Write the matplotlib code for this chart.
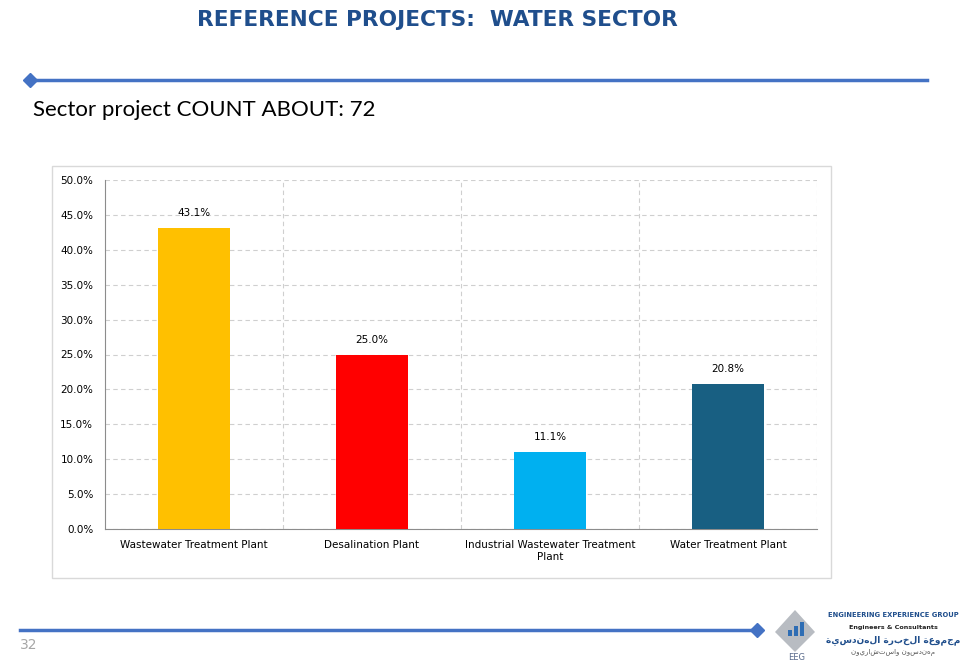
import numpy as np
import matplotlib
matplotlib.use("Agg")
import matplotlib.pyplot as plt
from matplotlib.patches import Rectangle, Polygon
from matplotlib.lines import Line2D

categories = ["Wastewater Treatment Plant", "Desalination Plant",
              "Industrial Wastewater Treatment\nPlant", "Water Treatment Plant"]
shares = [43.1, 25.0, 11.1, 20.8]
bar_colors = ["#FFC000", "#FF0000", "#00B0F0", "#185F82"]
yticks = [0, 5, 10, 15, 20, 25, 30, 35, 40, 45, 50]

plt.rcParams['font.family'] = ['DejaVu Sans']

fig = plt.figure(figsize=(9.77, 6.71), dpi=100)
W, H = 977, 671

def fx(x):
    return x / W

def fy(y):
    return 1 - y / H

# header
fig.text(fx(437), fy(20), "REFERENCE PROJECTS:  WATER SECTOR", ha='center', va='center',
         fontsize=15.6, fontweight='bold', color='#1F4E8C')
fig.add_artist(Line2D([fx(30), fx(927)], [fy(80), fy(80)], color='#4472C4', lw=2.5))
fig.add_artist(Line2D([fx(30)], [fy(80)], marker='D', color='#4472C4', markersize=7))
fig.text(fx(33), fy(110), "Sector project COUNT ABOUT: 72", ha='left', va='center',
         fontsize=16, color='black', family=['Lato', 'DejaVu Sans'])

# chart frame
fig.add_artist(Rectangle((fx(52), fy(578)), fx(831) - fx(52), fy(166) - fy(578),
                         transform=fig.transFigure, fill=False, edgecolor='#D9D9D9', lw=1))

ax = fig.add_axes([fx(105), fy(529), fx(817) - fx(105), fy(180) - fy(529)])
x = np.arange(len(categories))
bars = ax.bar(x, shares, width=0.4, color=bar_colors, zorder=3)
for b, v in zip(bars, shares):
    ax.annotate(f"{v:.1f}%", (b.get_x() + b.get_width() / 2, v), xytext=(0, 7),
                textcoords='offset points', ha='center', va='bottom', fontsize=7.5)

ax.set_xlim(-0.5, len(categories) - 0.5)
ax.set_ylim(0, 50)
ax.set_yticks(yticks)
ax.set_yticklabels([f"{t:.1f}%" for t in yticks])
ax.set_xticks(x)
ax.set_xticklabels(categories)
ax.set_xticks(np.arange(len(categories)) + 0.5, minor=True)
ax.tick_params(axis='both', which='both', length=0, labelsize=7.5)
ax.tick_params(axis='y', pad=8.5)
ax.tick_params(axis='x', pad=8)
ax.grid(axis='y', which='major', linestyle=(0, (4, 3)), color='#CFCFCF', lw=0.8, zorder=0)
ax.grid(axis='x', which='minor', linestyle=(0, (4, 3)), color='#CFCFCF', lw=0.8, zorder=0)
ax.grid(axis='x', which='major', visible=False)
for s in ['top', 'right']:
    ax.spines[s].set_visible(False)
for s in ['left', 'bottom']:
    ax.spines[s].set_color('#8C8C8C')
    ax.spines[s].set_linewidth(0.8)

# footer
fig.add_artist(Line2D([fx(20), fx(755)], [fy(630), fy(630)], color='#4472C4', lw=2.5))
fig.add_artist(Line2D([fx(757)], [fy(630)], marker='D', color='#4472C4', markersize=7))
fig.text(fx(20), fy(645), "32", ha='left', va='center', fontsize=10, color='#A6A6A6')

# logo
fig.add_artist(Polygon([[fx(775), fy(632)], [fx(795), fy(610)], [fx(815), fy(632)], [fx(795), fy(652)]],
                       closed=True, transform=fig.transFigure, facecolor='#B8BCC2', edgecolor='none'))
for i, h in enumerate([6, 10, 14]):
    fig.add_artist(Rectangle((fx(788 + i * 6), fy(636)), fx(4), h / H, transform=fig.transFigure,
                             facecolor='#2E6DB4', edgecolor='none'))
fig.text(fx(797), fy(657), "EEG", ha='center', va='center', fontsize=6, color='#5A6B8C')
fig.text(fx(893), fy(615), "ENGINEERING EXPERIENCE GROUP", ha='center', va='center',
         fontsize=4.9, fontweight='bold', color='#1F4E8C')
fig.text(fx(893), fy(627), "Engineers & Consultants", ha='center', va='center',
         fontsize=4.6, fontweight='bold', color='#222222')
fig.text(fx(893), fy(640), "مجموعة الخبرة الهندسية"[::-1], ha='center', va='center',
         fontsize=6.5, fontweight='bold', color='#1F4E8C')
fig.text(fx(893), fy(652), "مهندسون واستشاريون"[::-1], ha='center', va='center',
         fontsize=5, color='#555555')

fig.savefig("out.png", dpi=100)
